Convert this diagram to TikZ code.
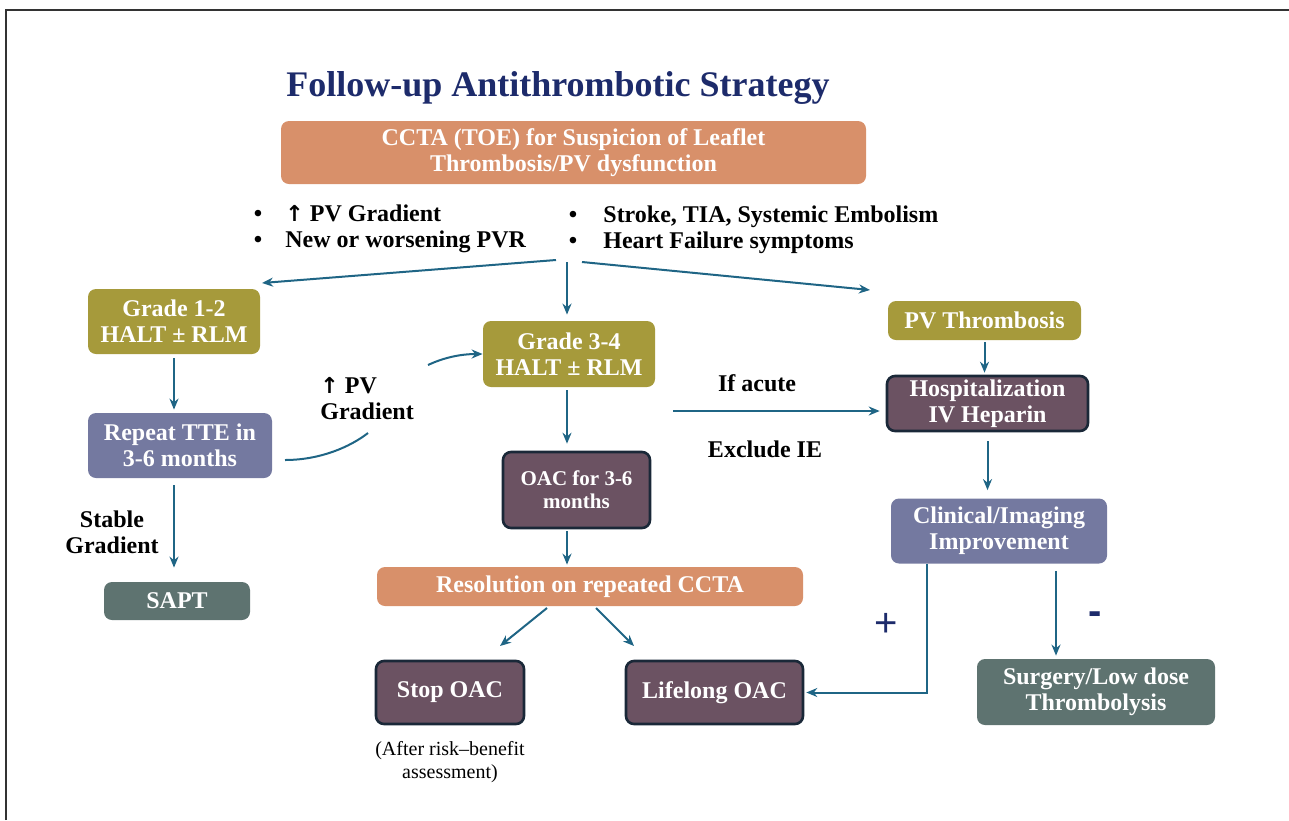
\documentclass[tikz,border=0pt]{standalone}
\usepackage{fontspec}
\setmainfont{Liberation Serif}
\newfontfamily\sansf{Liberation Sans}
\newfontfamily\symf{DejaVu Sans}
\usetikzlibrary{arrows.meta,calc}
\definecolor{cOrange}{HTML}{D8906A}
\definecolor{cOlive}{HTML}{A69A3B}
\definecolor{cSlate}{HTML}{7479A0}
\definecolor{cPlum}{HTML}{6B5262}
\definecolor{cGreen}{HTML}{5E7370}
\definecolor{cBorder}{HTML}{1A2838}
\definecolor{cArrow}{HTML}{1F6585}
\definecolor{cNavy}{HTML}{1D2B6B}
\definecolor{cFrame}{HTML}{333333}
\newcommand{\uparr}{{\symf\fontsize{11}{12}\selectfont ↑}}
\begin{document}
\begin{tikzpicture}[x=0.5pt,y=-0.5pt,
  box/.style={rounded corners=4pt, text=white, font=\bfseries\fontsize{12}{13}\selectfont, align=center, inner sep=0pt},
  boxOr/.style={box, fill=cOrange},
  boxOl/.style={box, fill=cOlive},
  boxSl/.style={box, fill=cSlate},
  boxPl/.style={box, fill=cPlum, draw=cBorder, line width=1.3pt},
  boxGr/.style={box, fill=cGreen},
  arr/.style={draw=cArrow, line width=1pt, -{Stealth[length=5.5pt,width=4.5pt]}},
  conn/.style={draw=cArrow, line width=1pt},
  lbl/.style={font=\bfseries\fontsize{12}{13}\selectfont, text=black, inner sep=0pt},
  note/.style={font=\fontsize{10}{11.5}\selectfont, text=black, inner sep=0pt, align=center},
  sign/.style={font=\sansf\fontsize{20}{20}\selectfont, text=cNavy, inner sep=0pt},
]
\useasboundingbox (0,0) rectangle (1289,820);
\draw[cFrame, line width=1pt] (6,820) -- (6,10) -- (1289,10);

% title
\node[anchor=base, inner sep=0pt, text=cNavy, font=\bfseries\fontsize{18}{20}\selectfont] (title) at (558,96) {Follow-up Antithrombotic Strategy};

% boxes
\node[boxOr, minimum width=292.5pt, minimum height=31.5pt] (cc) at (573.5,152.5) {CCTA (TOE) for Suspicion of Leaflet\\Thrombosis/PV dysfunction};
\node[boxOl, minimum width=86pt, minimum height=32.5pt] (g12) at (174,321.5) {Grade 1-2\\HALT ± RLM};
\node[boxSl, minimum width=92pt, minimum height=32.5pt] (rep) at (180,445.5) {Repeat TTE in\\3-6 months};
\node[boxGr, minimum width=73pt, minimum height=19pt] (sapt) at (177,601) {SAPT};
\node[boxOl, minimum width=86pt, minimum height=33pt] (g34) at (569,354) {Grade 3-4\\HALT ± RLM};
\node[boxPl, minimum width=73.5pt, minimum height=38pt, font=\bfseries\fontsize{10.5}{11.5}\selectfont] (oac) at (576.5,490) {OAC for 3-6\\months};
\node[boxOr, minimum width=213pt, minimum height=19.5pt] (res) at (590,586.5) {Resolution on repeated CCTA};
\node[boxPl, minimum width=74pt, minimum height=31.5pt] (stop) at (450,692.5) {Stop OAC};
\node[boxPl, minimum width=88.5pt, minimum height=31.5pt] (life) at (714.5,692.5) {Lifelong OAC};
\node[boxOl, minimum width=96.5pt, minimum height=19.5pt] (pvt) at (984.5,320.5) {PV Thrombosis};
\node[boxPl, minimum width=100.5pt, minimum height=27.5pt] (hosp) at (987.5,403.5) {Hospitalization\\IV Heparin};
\node[boxSl, minimum width=108pt, minimum height=32.5pt] (clin) at (999,531) {Clinical/Imaging\\Improvement};
\node[boxGr, minimum width=119pt, minimum height=33pt] (surg) at (1096,692) {Surgery/Low dose\\Thrombolysis};

% bullets
\node[lbl, anchor=base] (bu1) at (258,221) {•};
\node[lbl, anchor=base] (bu2) at (258,247) {•};
\node[lbl, anchor=base west] (t1) at (285,221) {\uparr\ PV Gradient};
\node[lbl, anchor=base west] (t2) at (285,247) {New or worsening PVR};
\node[lbl, anchor=base] (bu3) at (573,222) {•};
\node[lbl, anchor=base] (bu4) at (573,248) {•};
\node[lbl, anchor=base west] (t3) at (603,222) {Stroke, TIA, Systemic Embolism};
\node[lbl, anchor=base west] (t4) at (603,248) {Heart Failure symptoms};

% labels
\node[lbl, align=left, anchor=west] (pvg) at (320,399) {\uparr\ PV\\Gradient};
\node[lbl, align=center] (stab) at (112,532) {Stable\\Gradient};
\node[lbl] (acute) at (757,383) {If acute};
\node[lbl] (excl) at (765,449) {Exclude IE};
\node[note] (after) at (450,762) {(After risk–benefit\\assessment)};
\node[sign] (plus) at (886,625) {+};
\node[sign, font=\sansf\bfseries\fontsize{20}{20}\selectfont] (minus) at (1095,618) {-};

% coordinates
\coordinate (fL) at (556,260);
\coordinate (fM) at (567,262);
\coordinate (fR) at (582,262);
\coordinate (eL) at (262,283);
\coordinate (eR) at (870,290);
\coordinate (cs1) at (285,460);
\coordinate (cs2) at (368,433);
\coordinate (cs3) at (428,365);
\coordinate (ia) at (673,411);
\coordinate (r1) at (547,608);
\coordinate (s1) at (500,646);
\coordinate (r2) at (596,608);
\coordinate (l2) at (634,646);
\coordinate (xp) at (927,0);
\coordinate (xm) at (1056,0);

% connectors
\draw[arr] (fL) -- (eL);
\draw[arr] (fR) -- (eR);
\draw[arr, shorten >=3pt] (fM) -- (fM |- g34.north);
\draw[arr, shorten <=2pt, shorten >=1.5pt] (g12.south) -- (g12.south |- rep.north);
\draw[arr, shorten <=3.5pt, shorten >=7pt] (rep.south -| g12.south) -- (sapt.north -| g12.south);
\draw[conn] (cs1) .. controls (320,460) and (350,447) .. (cs2);
\draw[arr] (cs3) .. controls (445,357) and (462,354) .. (g34.west);
\draw[arr, shorten <=1.5pt, shorten >=3.5pt] (g34.south -| fM) -- (oac.north -| fM);
\draw[arr, shorten <=1pt, shorten >=1pt] (oac.south -| fM) -- (res.north -| fM);
\draw[arr] (r1) -- (s1);
\draw[arr] (r2) -- (l2);
\draw[arr, shorten >=3pt] (ia) -- (ia -| hosp.west);
\draw[arr, shorten <=1pt, shorten >=1pt] (pvt) -- (pvt.south |- hosp.north);
\draw[arr, shorten <=4.5pt, shorten >=4pt] (hosp.south) -- (hosp.south |- clin.north);
\draw[arr, shorten <=3.5pt, shorten >=1.5pt] (clin.south -| xm) -- (surg.north -| xm);
\draw[arr, shorten >=1pt] (clin.south -| xp) |- (life.east);
\end{tikzpicture}
\end{document}
